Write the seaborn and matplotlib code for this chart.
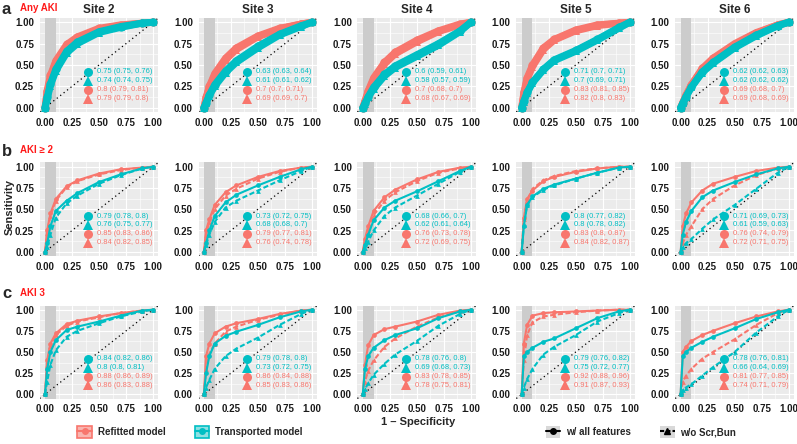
import numpy as np
import pandas as pd
import seaborn as sns
import matplotlib.pyplot as plt
from matplotlib.lines import Line2D
from matplotlib.patches import Patch
from matplotlib.legend_handler import HandlerTuple

sns.set_style("darkgrid", {"axes.facecolor": "#EBEBEB", "grid.color": "white"})
plt.rcParams['font.family'] = ['Liberation Sans', 'DejaVu Sans']

SALMON = '#F8766D'
TEAL = '#00BFC4'

SITES = ['Site 2', 'Site 3', 'Site 4', 'Site 5', 'Site 6']
OUTCOMES = ['Any AKI', 'AKI \u2265 2', 'AKI 3']
LETTERS = ['a', 'b', 'c']

FPR = [0, 0.02, 0.05, 0.1, 0.2, 0.3, 0.5, 0.7, 0.9, 1.0]

# Any AKI: TPR per site (Site 2..6)
ANY_REFIT_ALL = [[0, .20, .38, .55, .74, .83, .93, .97, .99, 1],
                 [0, .12, .25, .40, .58, .70, .84, .93, .98, 1],
                 [0, .08, .20, .35, .53, .65, .79, .90, .98, 1],
                 [0, .18, .35, .50, .70, .80, .91, .97, .99, 1],
                 [0, .06, .15, .27, .46, .58, .75, .88, .97, 1]]
ANY_REFIT_WO = [[0, .18, .36, .53, .72, .81, .92, .96, .99, 1],
                [0, .11, .24, .38, .56, .68, .83, .92, .98, 1],
                [0, .07, .18, .33, .51, .63, .77, .89, .97, 1],
                [0, .16, .33, .48, .68, .79, .90, .96, .99, 1],
                [0, .06, .14, .26, .45, .57, .74, .87, .97, 1]]
ANY_TRANS_ALL = [[0, .12, .28, .45, .66, .77, .89, .95, .99, 1],
                 [0, .06, .15, .27, .43, .55, .72, .86, .96, 1],
                 [0, .05, .13, .24, .39, .49, .62, .75, .90, 1],
                 [0, .08, .18, .30, .45, .56, .67, .80, .94, 1],
                 [0, .05, .13, .24, .42, .53, .71, .85, .96, 1]]
ANY_TRANS_WO = [[0, .10, .26, .43, .64, .75, .88, .94, .99, 1],
                [0, .05, .14, .25, .41, .53, .70, .85, .95, 1],
                [0, .04, .12, .22, .37, .47, .60, .73, .89, 1],
                [0, .07, .17, .29, .44, .55, .66, .79, .93, 1],
                [0, .05, .13, .24, .41, .52, .70, .84, .96, 1]]

# AKI >= 2
AKI2_REFIT_ALL = [[0, .25, .45, .62, .77, .84, .92, .97, .99, 1],
                  [0, .25, .38, .55, .70, .78, .88, .95, .99, 1],
                  [0, .15, .30, .48, .64, .73, .85, .94, .99, 1],
                  [0, .40, .62, .72, .83, .88, .94, .98, 1, 1],
                  [0, .30, .45, .58, .72, .80, .88, .95, .99, 1]]
AKI2_REFIT_WO = [[0, .22, .42, .60, .76, .83, .91, .96, .99, 1],
                 [0, .20, .35, .50, .66, .74, .86, .94, .99, 1],
                 [0, .12, .26, .43, .60, .70, .83, .93, .98, 1],
                 [0, .38, .60, .74, .84, .89, .95, .98, 1, 1],
                 [0, .10, .20, .30, .50, .62, .78, .90, .98, 1]]
AKI2_TRANS_ALL = [[0, .10, .30, .48, .60, .69, .82, .91, .98, 1],
                  [0, .10, .25, .42, .58, .67, .78, .88, .97, 1],
                  [0, .08, .20, .37, .52, .60, .71, .83, .95, 1],
                  [0, .30, .55, .65, .74, .79, .86, .93, .99, 1],
                  [0, .20, .35, .48, .64, .72, .82, .91, .98, 1]]
AKI2_TRANS_WO = [[0, .06, .20, .40, .57, .66, .80, .90, .98, 1],
                 [0, .08, .20, .35, .52, .60, .72, .84, .95, 1],
                 [0, .04, .12, .25, .42, .52, .66, .80, .94, 1],
                 [0, .32, .55, .64, .73, .78, .86, .93, .99, 1],
                 [0, .05, .10, .15, .27, .38, .55, .74, .93, 1]]

# AKI 3
AKI3_REFIT_ALL = [[0, .40, .60, .72, .83, .87, .92, .96, .99, 1],
                  [0, .45, .60, .72, .80, .84, .89, .95, .99, 1],
                  [0, .35, .58, .70, .77, .80, .86, .94, .99, 1],
                  [0, .60, .82, .93, .96, .97, .98, .99, 1, 1],
                  [0, .50, .56, .63, .70, .75, .84, .92, .98, 1]]
AKI3_REFIT_WO = [[0, .35, .57, .70, .81, .86, .91, .96, .99, 1],
                 [0, .30, .48, .60, .74, .80, .88, .94, .99, 1],
                 [0, .15, .28, .40, .56, .66, .80, .91, .98, 1],
                 [0, .40, .70, .85, .92, .94, .97, .99, 1, 1],
                 [0, .15, .22, .30, .42, .50, .65, .82, .96, 1]]
AKI3_TRANS_ALL = [[0, .30, .50, .64, .76, .80, .86, .93, .99, 1],
                  [0, .25, .45, .60, .69, .74, .82, .91, .98, 1],
                  [0, .30, .45, .55, .64, .70, .78, .90, .98, 1],
                  [0, .45, .50, .55, .62, .66, .78, .90, .98, 1],
                  [0, .45, .50, .55, .62, .68, .78, .89, .97, 1]]
AKI3_TRANS_WO = [[0, .15, .35, .52, .68, .75, .84, .92, .98, 1],
                 [0, .08, .17, .30, .45, .54, .67, .82, .95, 1],
                 [0, .06, .13, .23, .36, .47, .63, .81, .95, 1],
                 [0, .08, .18, .30, .47, .56, .70, .86, .96, 1],
                 [0, .05, .08, .12, .22, .32, .50, .73, .92, 1]]

# AUC labels: transported all, transported w/o, refitted all, refitted w/o
ANY_AUC = [['0.75 (0.75, 0.76)', '0.74 (0.74, 0.75)', '0.8 (0.79, 0.81)', '0.79 (0.79, 0.8)'],
           ['0.63 (0.63, 0.64)', '0.61 (0.61, 0.62)', '0.7 (0.7, 0.71)', '0.69 (0.69, 0.7)'],
           ['0.6 (0.59, 0.61)', '0.58 (0.57, 0.59)', '0.7 (0.68, 0.7)', '0.68 (0.67, 0.69)'],
           ['0.71 (0.7, 0.71)', '0.7 (0.69, 0.71)', '0.83 (0.81, 0.85)', '0.82 (0.8, 0.83)'],
           ['0.62 (0.62, 0.63)', '0.62 (0.62, 0.62)', '0.69 (0.68, 0.7)', '0.69 (0.68, 0.69)']]
AKI2_AUC = [['0.79 (0.78, 0.8)', '0.76 (0.75, 0.77)', '0.85 (0.83, 0.86)', '0.84 (0.82, 0.85)'],
            ['0.73 (0.72, 0.75)', '0.68 (0.68, 0.7)', '0.79 (0.77, 0.81)', '0.76 (0.74, 0.78)'],
            ['0.68 (0.66, 0.7)', '0.62 (0.61, 0.64)', '0.76 (0.73, 0.78)', '0.72 (0.69, 0.75)'],
            ['0.8 (0.77, 0.82)', '0.8 (0.78, 0.82)', '0.83 (0.8, 0.87)', '0.84 (0.82, 0.87)'],
            ['0.71 (0.69, 0.73)', '0.61 (0.59, 0.63)', '0.76 (0.74, 0.79)', '0.72 (0.71, 0.75)']]
AKI3_AUC = [['0.84 (0.82, 0.86)', '0.8 (0.8, 0.81)', '0.88 (0.86, 0.89)', '0.86 (0.83, 0.88)'],
            ['0.79 (0.78, 0.8)', '0.73 (0.72, 0.75)', '0.86 (0.84, 0.88)', '0.85 (0.83, 0.86)'],
            ['0.78 (0.76, 0.8)', '0.69 (0.68, 0.73)', '0.83 (0.78, 0.85)', '0.78 (0.75, 0.81)'],
            ['0.79 (0.76, 0.82)', '0.75 (0.72, 0.77)', '0.92 (0.88, 0.96)', '0.91 (0.87, 0.93)'],
            ['0.78 (0.76, 0.81)', '0.66 (0.64, 0.69)', '0.81 (0.77, 0.85)', '0.74 (0.71, 0.79)']]

ROWS = [
    (ANY_REFIT_ALL, ANY_REFIT_WO, ANY_TRANS_ALL, ANY_TRANS_WO, ANY_AUC),
    (AKI2_REFIT_ALL, AKI2_REFIT_WO, AKI2_TRANS_ALL, AKI2_TRANS_WO, AKI2_AUC),
    (AKI3_REFIT_ALL, AKI3_REFIT_WO, AKI3_TRANS_ALL, AKI3_TRANS_WO, AKI3_AUC),
]

W, H = 797, 444
fig = plt.figure(figsize=(W / 100, H / 100), dpi=100)

col_left = [39.6, 198.5, 357.4, 516.3, 675.2]
col_w = 118.8
row_top = [18, 162.5, 305.5]
row_h = [94, 93.5, 93]

ticks = [0, 0.25, 0.5, 0.75, 1]
tick_labels = ['0.00', '0.25', '0.50', '0.75', '1.00']

for r, (ra, rw, ta, tw, aucs) in enumerate(ROWS):
    for c in range(5):
        ax = fig.add_axes([col_left[c] / W, 1 - (row_top[r] + row_h[r]) / H,
                           col_w / W, row_h[r] / H])
        recs = []
        for model, feat, tpr in [('Refitted', 'all', ra[c]), ('Refitted', 'wo', rw[c]),
                                 ('Transported', 'all', ta[c]), ('Transported', 'wo', tw[c])]:
            for f, t in zip(FPR, tpr):
                recs.append((f, t, model, feat))
        df = pd.DataFrame(recs, columns=['fpr', 'tpr', 'model', 'features'])

        ax.axvspan(0, 0.1, color='#CCCCCC', zorder=0.6, lw=0)
        ax.axline((0, 0), (1, 1), color='black', lw=0.9, ls=(0, (1, 2.5)), zorder=1)

        if r == 0:
            lw, ms, dashes = 5, 6, {'all': '', 'wo': ''}
        else:
            lw, ms, dashes = 1.5, 3.4, {'all': '', 'wo': (2.5, 1.2)}
        sns.lineplot(data=df, x='fpr', y='tpr', hue='model', style='features',
                     hue_order=['Refitted', 'Transported'], style_order=['all', 'wo'],
                     palette={'Refitted': SALMON, 'Transported': TEAL},
                     markers={'all': 'o', 'wo': '^'}, dashes=dashes,
                     estimator=None, sort=False, legend=False, ax=ax,
                     lw=lw, markersize=ms, markeredgewidth=0, zorder=2)

        # AUC annotation
        for k, (col, mk, ypos) in enumerate([(TEAL, 'o', 0.42), (TEAL, '^', 0.315),
                                             (SALMON, 'o', 0.21), (SALMON, '^', 0.105)]):
            ax.plot(0.4, ypos, marker=mk, color=col, markersize=6.5, mew=0, zorder=3)
            ax.text(0.485, ypos, aucs[c][k], color=col, fontsize=5.4, va='center',
                    ha='left', zorder=3)

        ax.set_xlim(-0.05, 1.05)
        ax.set_ylim(-0.05, 1.05)
        ax.set_xticks(ticks)
        ax.set_yticks(ticks)
        ax.set_xticklabels(tick_labels)
        ax.set_yticklabels(tick_labels)
        ax.set_xticks([0.125, 0.375, 0.625, 0.875], minor=True)
        ax.set_yticks([0.125, 0.375, 0.625, 0.875], minor=True)
        ax.grid(which='major', color='white', lw=0.8)
        ax.grid(which='minor', color='white', lw=0.4)
        ax.set_axisbelow(True)
        ax.tick_params(which='major', length=2.5, width=0.6, color='#333333',
                       labelsize=7, pad=1.5, labelcolor='#1A1A1A')
        ax.tick_params(which='minor', length=0)
        for lab in ax.get_xticklabels() + ax.get_yticklabels():
            lab.set_fontweight('bold')
        ax.set_xlabel('')
        ax.set_ylabel('')
        for s in ax.spines.values():
            s.set_visible(False)

        if r == 0:
            fig.text((col_left[c] + col_w / 2) / W, 1 - 10 / H, SITES[c],
                     ha='center', va='center', fontsize=8.5, fontweight='bold')

# row tags
for r, ytop in enumerate([9, 151, 294]):
    fig.text(2 / W, 1 - ytop / H, LETTERS[r], fontsize=12, fontweight='bold',
             ha='left', va='center')
    fig.text(20 / W, 1 - (ytop - 1) / H, OUTCOMES[r], fontsize=7, fontweight='bold',
             color='#FF1A1A', ha='left', va='center')

fig.text(10 / W, 1 - 207 / H, 'Sensitivity', rotation=90, fontsize=8,
         fontweight='bold', ha='center', va='center')
fig.text(418 / W, 1 - 422 / H, '1 \u2013 Specificity', fontsize=8,
         fontweight='bold', ha='center', va='center')

# legends (keys drawn on a grey box like ggplot)
model_handles = [
    (Patch(facecolor='#D9D9D9', edgecolor='none'),
     Patch(facecolor='#F9B5B0', edgecolor=SALMON, lw=1.2),
     Line2D([0], [0], color=SALMON, lw=1.5, marker='o', markersize=4)),
    (Patch(facecolor='#D9D9D9', edgecolor='none'),
     Patch(facecolor='#8FE0E2', edgecolor=TEAL, lw=1.2),
     Line2D([0], [0], color=TEAL, lw=1.5, marker='o', markersize=4)),
]
leg1 = fig.legend(model_handles, ['Refitted model', 'Transported model'],
                  handler_map={tuple: HandlerTuple(ndivide=1)},
                  loc='center', bbox_to_anchor=(190 / W, 1 - 432 / H), ncol=2,
                  frameon=False, handlelength=1.5, handleheight=1.5,
                  handletextpad=0.6, columnspacing=3.0,
                  prop={'size': 7, 'weight': 'bold'})
feat_handles = [
    (Patch(facecolor='#D9D9D9', edgecolor='none'),
     Line2D([0], [0], color='black', lw=1.5, marker='o', markersize=4)),
    (Patch(facecolor='#D9D9D9', edgecolor='none'),
     Line2D([0], [0], color='black', lw=1.5, marker='^', markersize=4.5, ls=(0, (2, 1)))),
]
leg2 = fig.legend(feat_handles, ['w/ all features', 'w/o Scr,Bun'],
                  handler_map={tuple: HandlerTuple(ndivide=1)},
                  loc='center', bbox_to_anchor=(641 / W, 1 - 432 / H), ncol=2,
                  frameon=False, handlelength=1.5, handleheight=1.5,
                  handletextpad=0.6, columnspacing=3.0,
                  prop={'size': 7, 'weight': 'bold'})

fig.savefig('out.png', dpi=100)
